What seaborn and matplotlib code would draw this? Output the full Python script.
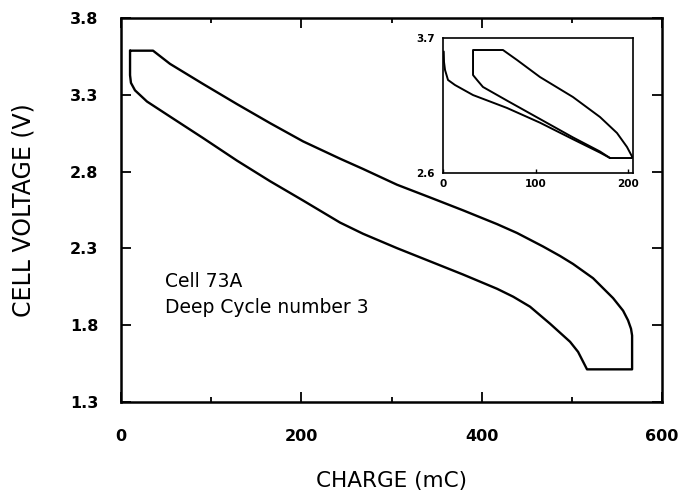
import numpy as np
import pandas as pd
import matplotlib
matplotlib.use("Agg")
import matplotlib.pyplot as plt
import seaborn as sns

# Curva principal: rama superior (desde arriba a la izquierda hasta abajo a la derecha)
carga_sup = [10.0, 35.5, 54.3, 90.9, 128.7, 165.3, 201.9, 242.9, 268.4, 306.1, 342.7,
             379.3, 417.0, 439.2, 468.0, 486.9, 501.3, 523.5, 545.7, 556.8, 562.3, 565.6, 566.8, 566.8]
volt_sup = [3.59, 3.59, 3.504, 3.373, 3.241, 3.117, 2.998, 2.885, 2.818, 2.715, 2.632,
            2.548, 2.458, 2.400, 2.312, 2.250, 2.198, 2.105, 1.975, 1.893, 1.830, 1.775, 1.731, 1.51]

# rama inferior (vuelta desde abajo a la derecha hasta arriba a la izquierda)
carga_inf = [566.8, 516.8, 506.9, 498.0, 475.8, 453.6, 435.0, 417.0, 379.3, 342.7, 306.1, 268.4,
             242.9, 201.9, 165.3, 128.7, 90.9, 54.3, 28.8, 15.5, 11.0, 10.0, 10.0]
volt_inf = [1.51, 1.51, 1.624, 1.690, 1.808, 1.919, 1.984, 2.036, 2.129, 2.215, 2.301, 2.395,
            2.468, 2.612, 2.738, 2.872, 3.020, 3.160, 3.258, 3.331, 3.38, 3.43, 3.59]

# Recuadro: curva A (primera descarga)
carga_a = [0.8, 1.1, 2.2, 5.4, 12.9, 32.4, 69.0, 104.6, 140.2, 169.4, 180.2]
volt_a = [3.59, 3.504, 3.439, 3.358, 3.317, 3.235, 3.130, 3.010, 2.875, 2.766, 2.722]

# Recuadro: ciclo B
carga_b = [180.2, 169.4, 140.2, 104.6, 69.0, 43.1, 36.7, 32.4, 32.4, 64.7, 79.8, 104.6,
           140.2, 169.4, 187.7, 198.5, 203.9, 203.9, 180.2]
volt_b = [2.722, 2.775, 2.89, 3.040, 3.190, 3.301, 3.358, 3.398, 3.602, 3.602, 3.521, 3.382,
          3.219, 3.056, 2.926, 2.812, 2.735, 2.722, 2.722]

sns.set_style("ticks")
plt.rcParams['font.family'] = ['DejaVu Sans']
plt.rcParams['text.color'] = 'black'
plt.rcParams['axes.labelcolor'] = 'black'
plt.rcParams['xtick.color'] = 'black'
plt.rcParams['ytick.color'] = 'black'

df_main = pd.DataFrame({'carga': carga_sup + carga_inf, 'voltaje': volt_sup + volt_inf})
df_in = pd.DataFrame({'carga': carga_a + carga_b,
                      'voltaje': volt_a + volt_b,
                      'tramo': ['A'] * len(carga_a) + ['B'] * len(carga_b)})

fig = plt.figure(figsize=(6.83, 4.92), dpi=100)
ax = fig.add_axes([0.1772, 0.1839, 0.7921, 0.7785])

sns.lineplot(data=df_main, x='carga', y='voltaje', sort=False, estimator=None,
             color='black', lw=1.7, ax=ax)

ax.set_xlim(0, 600)
ax.set_ylim(1.3, 3.8)
ax.set_xticks([0, 200, 400, 600])
ax.set_xticks([100, 300, 500], minor=True)
ax.set_yticks([1.3, 1.8, 2.3, 2.8, 3.3, 3.8])
ax.set_yticklabels(['1.3', '1.8', '2.3', '2.8', '3.3', '3.8'])
ax.tick_params(which='both', direction='in', top=True, right=True, width=1.3, color='black')
ax.tick_params(which='major', length=7, labelsize=11.5)
ax.tick_params(which='minor', length=3.5)
ax.tick_params(axis='x', pad=20)
ax.tick_params(axis='y', pad=16.5)
for lbl in ax.get_xticklabels() + ax.get_yticklabels():
    lbl.set_fontweight('bold')
for s in ax.spines.values():
    s.set_linewidth(1.8)
    s.set_color('black')

ax.set_xlabel('CHARGE (mC)', fontsize=15.5, labelpad=19)
ax.set_ylabel('CELL VOLTAGE (V)', fontsize=17, labelpad=25)

ax.text(48.8, 2.047, 'Cell 73A', fontsize=13.5, va='baseline', ha='left')
ax.text(48.8, 1.877, 'Deep Cycle number 3', fontsize=13.5, va='baseline', ha='left')

# Recuadro
ax_in = fig.add_axes([0.6486, 0.6484, 0.2782, 0.2744])
sns.lineplot(data=df_in, x='carga', y='voltaje', units='tramo', sort=False, estimator=None,
             color='black', lw=1.4, ax=ax_in)
ax_in.set_xlim(0, 205)
ax_in.set_ylim(2.6, 3.7)
ax_in.set_xticks([0, 100, 200])
ax_in.set_yticks([2.6, 3.7])
ax_in.set_yticklabels(['2.6', '3.7'])
ax_in.tick_params(axis='x', direction='in', length=3, width=1, pad=4, labelsize=7.5)
ax_in.tick_params(axis='y', length=0, pad=6, labelsize=7.5)
for lbl in ax_in.get_xticklabels() + ax_in.get_yticklabels():
    lbl.set_fontweight('bold')
ax_in.set_xlabel('')
ax_in.set_ylabel('')
for s in ax_in.spines.values():
    s.set_linewidth(1.2)
    s.set_color('black')

fig.savefig('out.png', dpi=100)
